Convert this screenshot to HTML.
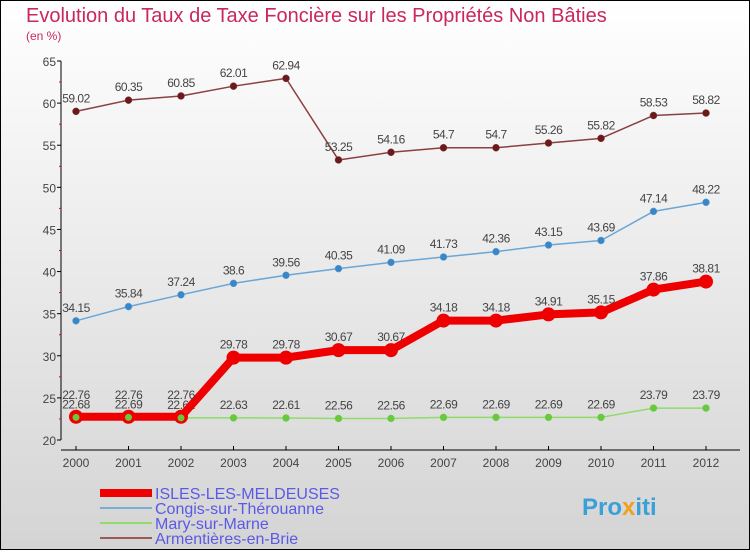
<!DOCTYPE html>
<html><head><meta charset="utf-8"><style>
body{margin:0;}
#c{width:750px;height:550px;position:relative;font-family:"Liberation Sans",sans-serif;}
</style></head><body>
<div id="c">
<svg id="s" width="750" height="550" xmlns="http://www.w3.org/2000/svg">
<defs><linearGradient id="bg" x1="0" y1="0" x2="0" y2="1"><stop offset="0" stop-color="#ffffff"/><stop offset="1" stop-color="#d4d4d4"/></linearGradient></defs>
<rect x="0.5" y="0.5" width="749" height="549" fill="url(#bg)" stroke="#000"/>
<text x="26" y="22" font-size="20" fill="#c8285a">Evolution du Taux de Taxe Foncière sur les Propriétés Non Bâties</text>
<text x="26" y="40" font-size="12" fill="#c8285a">(en %)</text>
<g id="axes"></g><g id="series"></g>
<g>
<line x1="100" y1="493" x2="152" y2="493" stroke="#ee0000" stroke-width="8"/>
<text x="155" y="499" font-size="16" fill="#5a5ae6">ISLES-LES-MELDEUSES</text>
<line x1="100" y1="508" x2="152" y2="508" stroke="#7aaed0" stroke-width="2"/>
<text x="155" y="514" font-size="16" fill="#5a5ae6">Congis-sur-Thérouanne</text>
<line x1="100" y1="523" x2="152" y2="523" stroke="#8fdc6a" stroke-width="2"/>
<text x="155" y="529" font-size="16" fill="#5a5ae6">Mary-sur-Marne</text>
<line x1="100" y1="538" x2="152" y2="538" stroke="#9a5a5a" stroke-width="2"/>
<text x="155" y="544" font-size="16" fill="#5a5ae6">Armentières-en-Brie</text>
</g>
<text x="582" y="515" font-size="24" font-weight="bold" fill="#3aa0d8">Pro<tspan fill="#f0a020">x</tspan>iti</text>
</svg></div>
<script>
const years=["2000","2001","2002","2003","2004","2005","2006","2007","2008","2009","2010","2011","2012"];
const yTicks=[20,25,30,35,40,45,50,55,60,65];
const armentieres=[59.02,60.35,60.85,62.01,62.94,53.25,54.16,54.7,54.7,55.26,55.82,58.53,58.82];
const congis=[34.15,35.84,37.24,38.6,39.56,40.35,41.09,41.73,42.36,43.15,43.69,47.14,48.22];
const isles=[22.76,22.76,22.76,29.78,29.78,30.67,30.67,34.18,34.18,34.91,35.15,37.86,38.81];
const mary=[22.68,22.69,22.62,22.63,22.61,22.56,22.56,22.69,22.69,22.69,22.69,23.79,23.79];
const NS="http://www.w3.org/2000/svg";
const x=i=>76+i*52.5, y=v=>440-(v-20)*(379/45);
function mk(t,a,p){const e=document.createElementNS(NS,t);for(const k in a)e.setAttribute(k,a[k]);p.appendChild(e);return e;}
const ax=document.getElementById('axes'), sr=document.getElementById('series');
let e=mk('line',{x1:61,y1:y(65),x2:61,y2:y(20),stroke:'#000'},ax);

e=mk('line',{x1:61,y1:450,x2:740,y2:450,stroke:'#000'},ax);

yTicks.forEach(v=>{mk('line',{x1:57,y1:y(v),x2:61,y2:y(v),stroke:'#000'},ax);
 e=mk('text',{x:56,y:y(v)+5,'font-size':12,fill:'#444','text-anchor':'end'},ax);e.textContent=v;
 
 if(v<65)mk('line',{x1:59,y1:y(v+2.5),x2:61,y2:y(v+2.5),stroke:'#e00'},ax);});
years.forEach((yr,i)=>{mk('line',{x1:x(i),y1:446,x2:x(i),y2:450,stroke:'#000'},ax);
 e=mk('text',{x:x(i),y:467,'font-size':12,fill:'#444','text-anchor':'middle'},ax);e.textContent=yr;
 });
function series(d,name,col,w,r,dot,lab){
 const g=mk('g',{},sr);
 mk('polyline',{points:d.map((v,i)=>x(i)+','+y(v)).join(' '),fill:'none',stroke:col,'stroke-width':w,'stroke-linejoin':'round'},g);
 d.forEach((v,i)=>{const c=mk('circle',{cx:x(i),cy:y(v),r:r,fill:dot,stroke:col,'stroke-width':w>3?2:0.5},g);
  
  if(lab){const t=mk('text',{x:x(i),y:y(v)-lab,'font-size':12,fill:'#444','text-anchor':'middle','letter-spacing':'-0.5'},g);
   t.textContent=String(v);}});
}
series(armentieres,'armentieres','#8a4040',1.5,3.5,'#6a1a1a',9);
series(congis,'congis','#6aa6d6',1.5,3.5,'#3a86c6',9);
series(mary,'mary','#8fdc6a',1.5,3.5,'#6ac840',9);
series(isles,'isles','#ee0000',8,6,'#ee0000',0);
mary.forEach((v,i)=>{const c=mk('circle',{cx:x(i),cy:y(v),r:3.5,fill:'#6ac840'},sr);
 
 if(i<3){}});
isles.forEach((v,i)=>{const t=mk('text',{x:x(i),y:y(v)-(i<3?18:9),'font-size':12,fill:'#444','text-anchor':'middle','letter-spacing':'-0.5'},sr);
 t.textContent=String(v);});
</script>
</body></html>
